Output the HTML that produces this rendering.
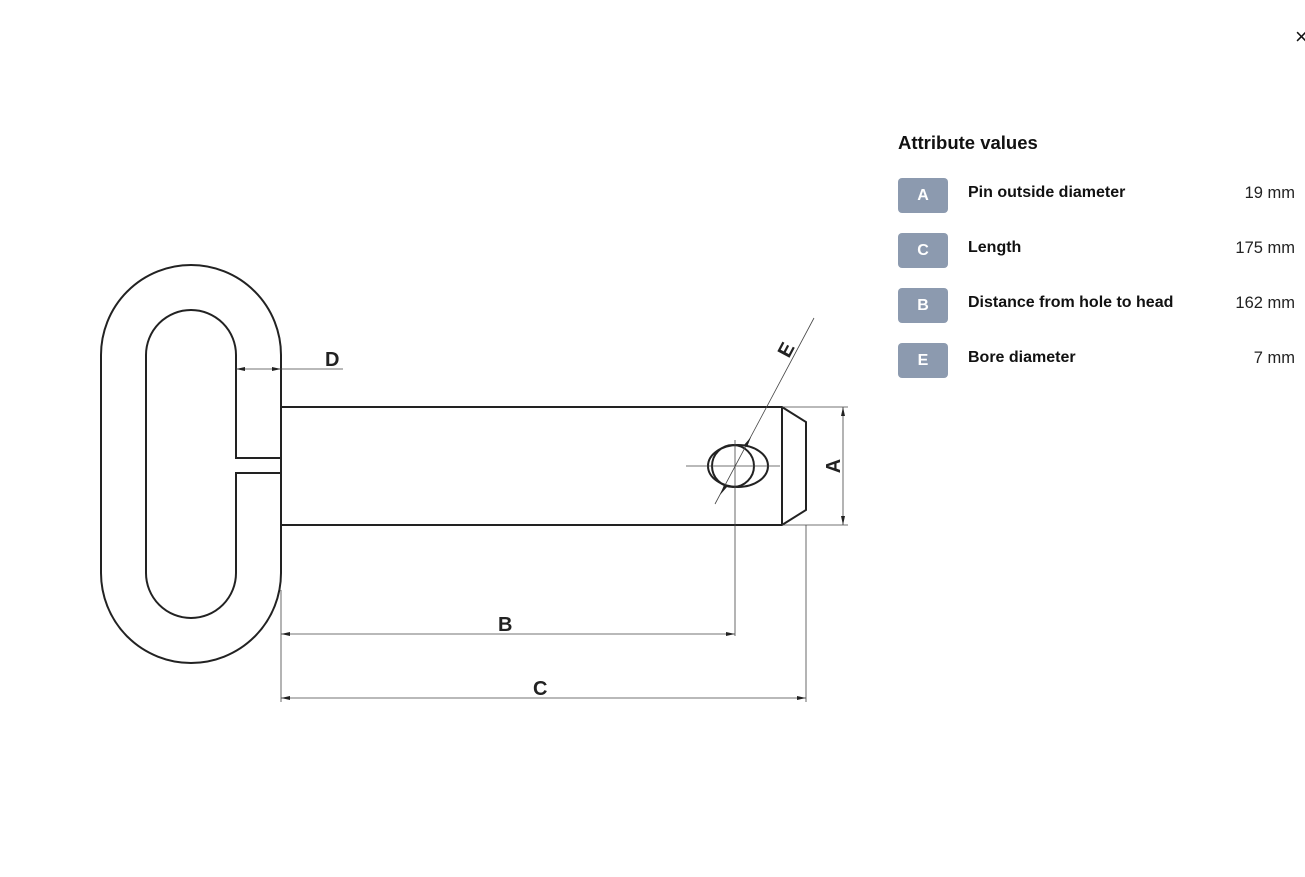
<!DOCTYPE html>
<html><head><style>
body{margin:0;width:1305px;height:877px;background:#fff;position:relative;overflow:hidden;font-family:"Liberation Sans",sans-serif;}
.t{position:absolute;left:898px;top:132px;font-size:18.5px;font-weight:600;color:#111;}
.b{position:absolute;left:898px;width:50px;height:35px;border-radius:4px;background:#8c9aaf;color:#fff;font-weight:700;font-size:16px;text-align:center;line-height:35px;}
.l{position:absolute;left:968px;font-size:16px;font-weight:600;color:#111;}
.v{position:absolute;right:10px;font-size:16.5px;color:#222;}
.x{position:absolute;left:1295px;top:24px;font-size:22px;color:#111;}
</style></head><body>
<svg width="1305" height="877" style="position:absolute;left:0;top:0">
<g fill="none" stroke="#222" stroke-width="2">
<path d="M281 458 V355 A90 90 0 0 0 101 355 V573 A90 90 0 0 0 281 573 V473"/>
<path d="M281 458 H236 V355 A45 45 0 0 0 146 355 V573 A45 45 0 0 0 236 573 V473 H281"/>
<path d="M281 407 H782 L806 422 V510 L782 525 H281 Z"/>
<line x1="782" y1="407" x2="782" y2="525"/>
<ellipse cx="738" cy="466" rx="30" ry="21"/>
<circle cx="733" cy="466" r="21"/>
</g>
<g stroke="#444" stroke-width="0.8" fill="none">
<line x1="686" y1="466" x2="780" y2="466"/>
<line x1="735" y1="440" x2="735" y2="636"/>
<line x1="281" y1="590" x2="281" y2="702"/>
<line x1="806" y1="525" x2="806" y2="702"/>
<line x1="281" y1="634" x2="735" y2="634"/>
<line x1="281" y1="698" x2="806" y2="698"/>
<line x1="236" y1="369" x2="343" y2="369"/>
<line x1="782" y1="407" x2="848" y2="407"/>
<line x1="782" y1="525" x2="848" y2="525"/>
<line x1="843" y1="407" x2="843" y2="525"/>
<line x1="814" y1="318" x2="715" y2="504"/>
</g>
<g fill="#222">
<path d="M281 634 l9 -2 v4z M735 634 l-9 -2 v4z M281 698 l9 -2 v4z M806 698 l-9 -2 v4z M236 369 l9 -2 v4z M281 369 l-9 -2 v4z M843 407 l-2 9 h4z M843 525 l-2 -9 h4z M751 437 l-4 10 l-3 -2z M720 495 l4 -10 l3 2z"/>
</g>
<g font-family="Liberation Sans,sans-serif" font-weight="700" font-size="20" fill="#222">
<text x="325" y="366">D</text>
<text x="498" y="631">B</text>
<text x="533" y="695">C</text>
<text transform="translate(840,466) rotate(-90)" text-anchor="middle">A</text>
<text transform="translate(792,353) rotate(-62)" text-anchor="middle">E</text>
</g>
</svg>
<div class="x">×</div>
<div class="t">Attribute values</div>
<div class="b" style="top:178px">A</div><div class="l" style="top:184px">Pin outside diameter</div><div class="v" style="top:184px">19 mm</div>
<div class="b" style="top:233px">C</div><div class="l" style="top:239px">Length</div><div class="v" style="top:239px">175 mm</div>
<div class="b" style="top:288px">B</div><div class="l" style="top:294px">Distance from hole to head</div><div class="v" style="top:294px">162 mm</div>
<div class="b" style="top:343px">E</div><div class="l" style="top:349px">Bore diameter</div><div class="v" style="top:349px">7 mm</div>
</body></html>
